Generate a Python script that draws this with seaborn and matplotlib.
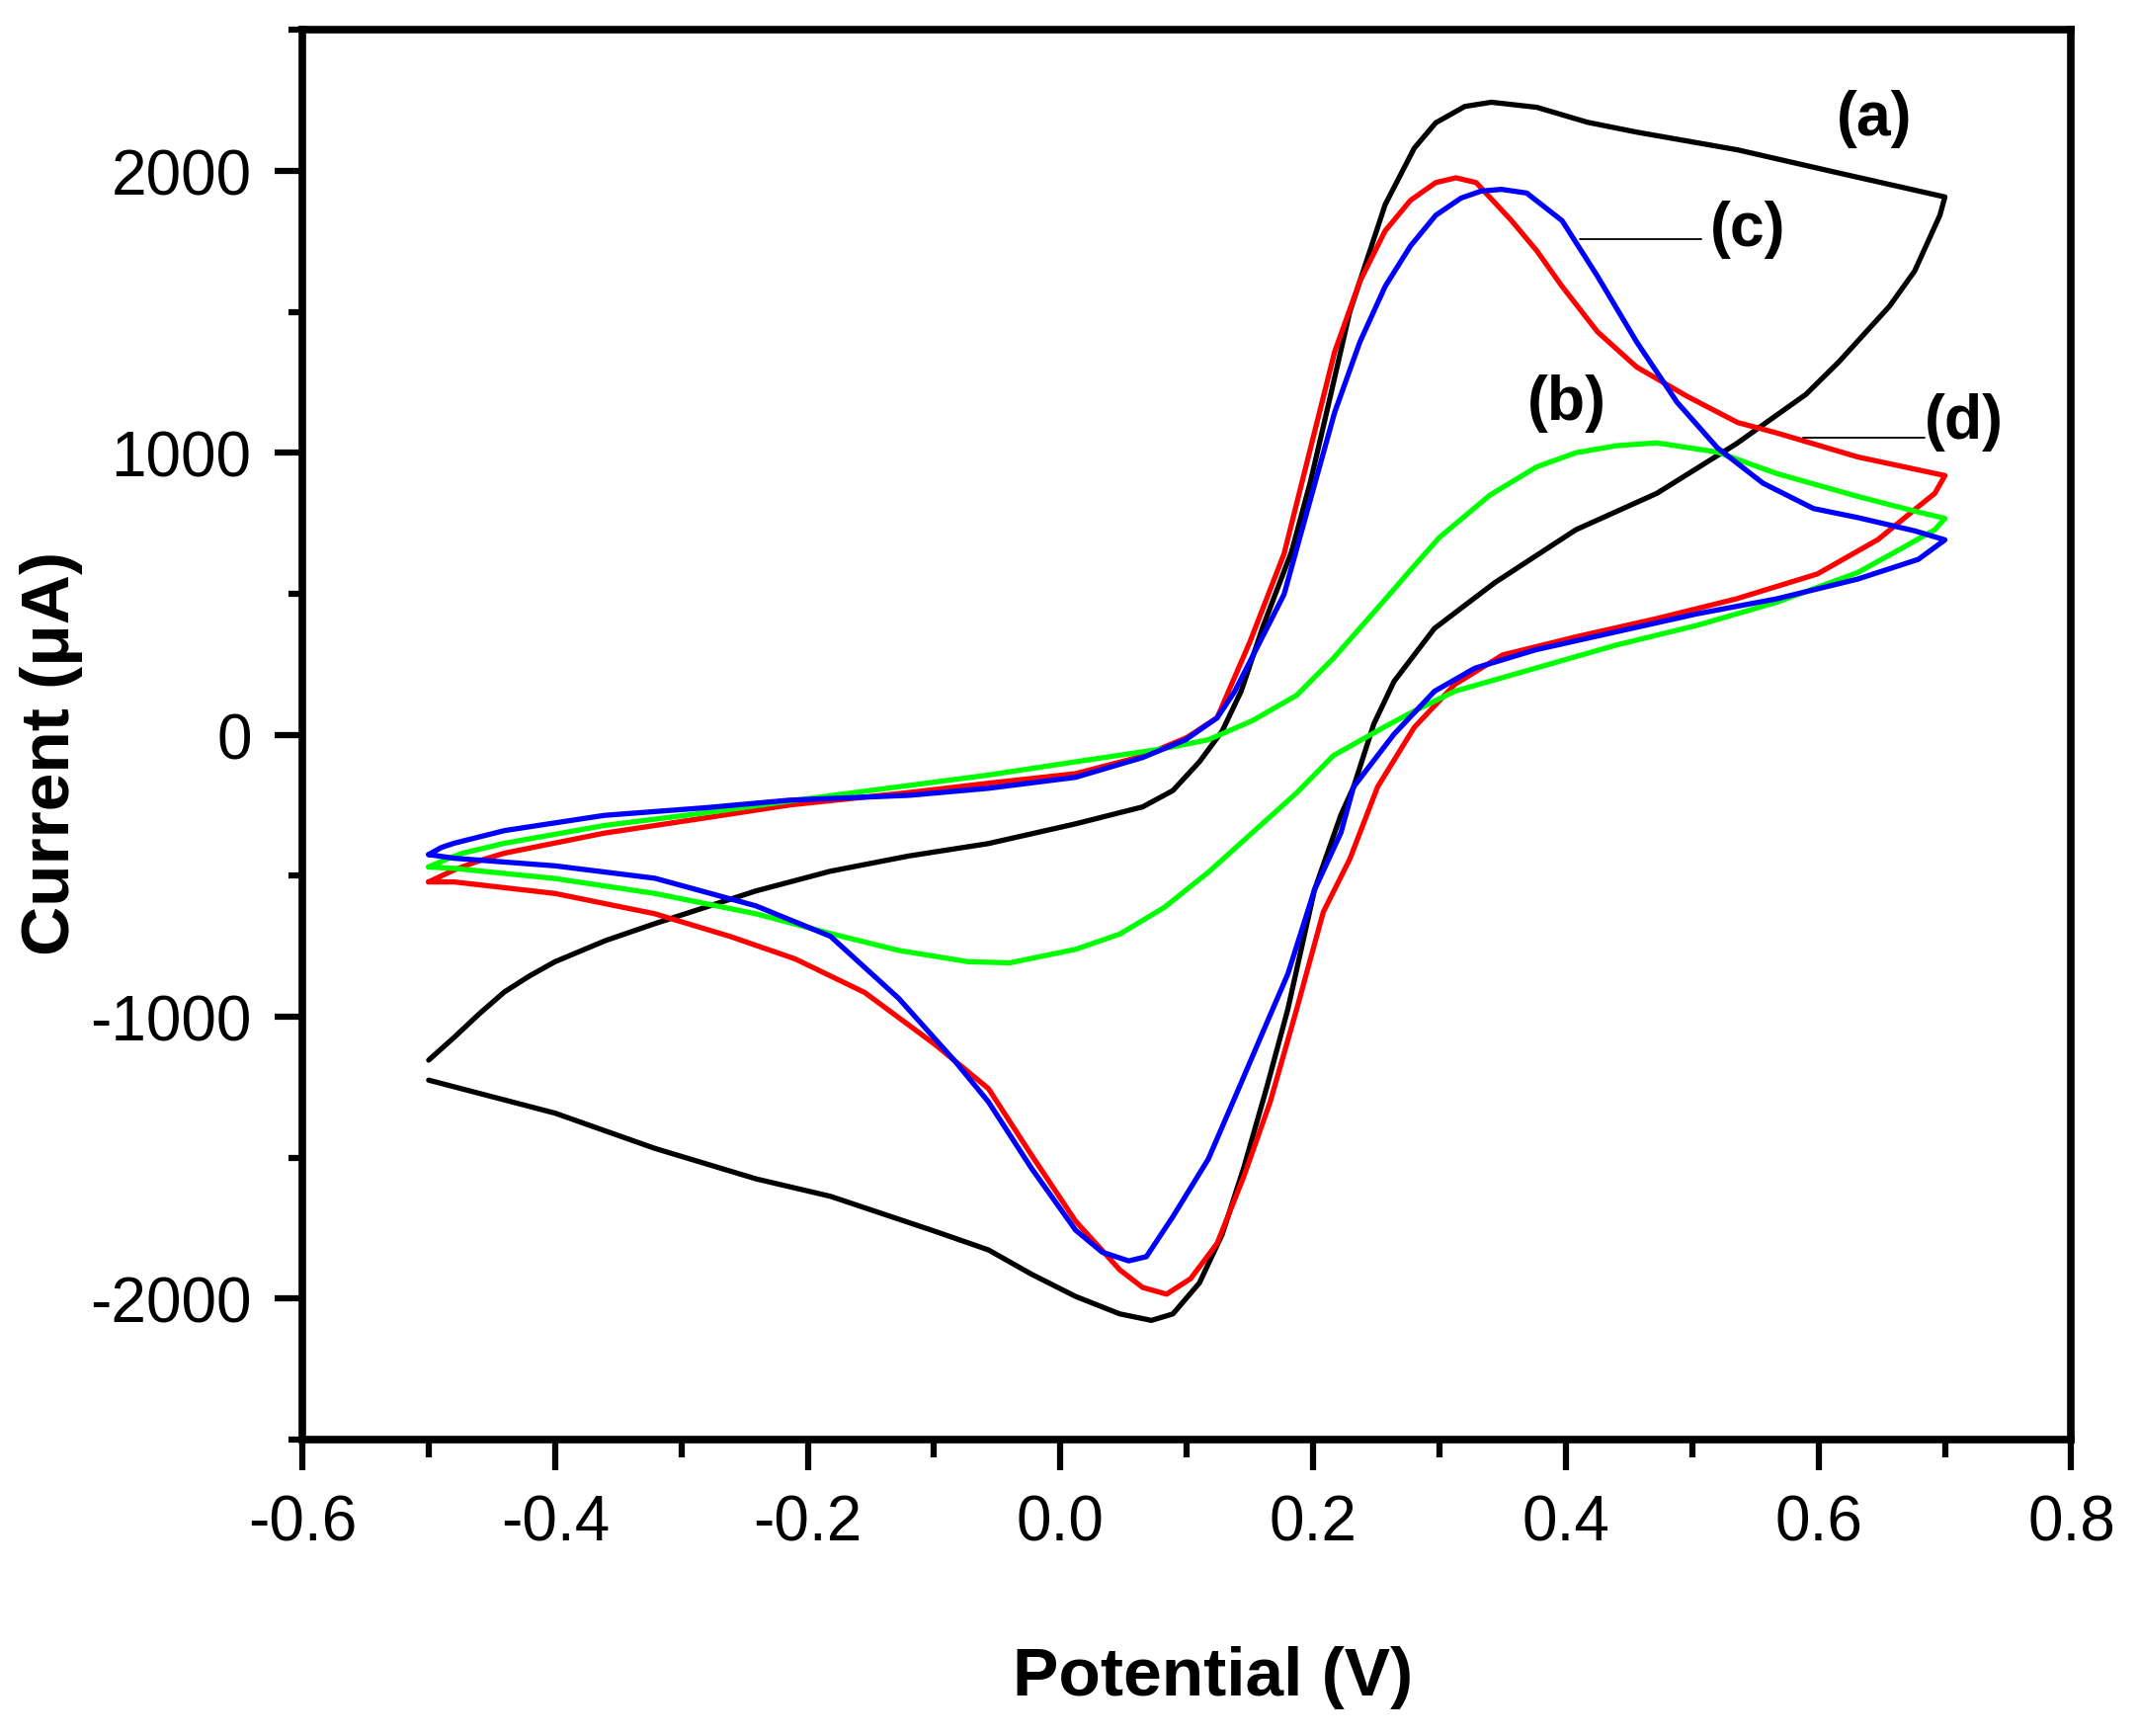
import matplotlib
matplotlib.use("Agg")
import matplotlib.pyplot as plt
import seaborn as sns
from matplotlib.ticker import MultipleLocator

# (a) black
a_anodic_E = [-0.500, -0.480, -0.460, -0.440, -0.420, -0.400, -0.360, -0.321, -0.241, -0.182, -0.120,
              -0.057, 0.012, 0.065, 0.089, 0.110, 0.128, 0.143, 0.160, 0.183, 0.198, 0.211, 0.229,
              0.257, 0.280, 0.297, 0.320, 0.341, 0.377, 0.417, 0.456, 0.536, 0.615, 0.700]
a_anodic_I = [-1154, -1074, -990, -912, -855, -805, -730, -670, -554, -484, -430,
              -386, -316, -256, -198, -96, 13, 154, 380, 650, 900, 1150, 1500,
              1880, 2080, 2170, 2228, 2243, 2225, 2172, 2137, 2074, 1993, 1907]
a_cathodic_E = [0.696, 0.676, 0.656, 0.616, 0.590, 0.535, 0.472, 0.408, 0.344, 0.296, 0.264, 0.248,
                0.232, 0.222, 0.201, 0.180, 0.163, 0.145, 0.128, 0.110, 0.089, 0.072, 0.047, 0.012,
                -0.023, -0.057, -0.100, -0.182, -0.241, -0.321, -0.400, -0.500]
a_cathodic_I = [1842, 1644, 1519, 1322, 1207, 1032, 856, 727, 540, 377, 189, 38,
                -185, -284, -551, -973, -1255, -1537, -1772, -1944, -2054, -2077, -2054, -1992,
                -1913, -1827, -1760, -1637, -1575, -1467, -1342, -1225]

# (d) red
d_anodic_E = [-0.500, -0.480, -0.460, -0.440, -0.361, -0.281, -0.214, -0.120, -0.057, 0.012, 0.065,
              0.100, 0.124, 0.150, 0.177, 0.197, 0.217, 0.237, 0.257, 0.277, 0.297, 0.313, 0.329,
              0.357, 0.377, 0.397, 0.425, 0.456, 0.496, 0.536, 0.567, 0.631, 0.700]
d_anodic_I = [-522, -480, -447, -420, -349, -295, -249, -205, -172, -138, -76,
              -10, 60, 330, 642, 1000, 1358, 1608, 1787, 1895, 1958, 1975, 1958,
              1823, 1716, 1590, 1429, 1304, 1200, 1107, 1070, 985, 919]
d_cathodic_E = [0.692, 0.679, 0.647, 0.599, 0.535, 0.472, 0.408, 0.350, 0.312, 0.280, 0.251, 0.229,
                0.208, 0.187, 0.166, 0.145, 0.124, 0.103, 0.084, 0.065, 0.047, 0.012, -0.023,
                -0.057, -0.100, -0.155, -0.210, -0.261, -0.321, -0.400, -0.480, -0.500]
d_cathodic_I = [856, 809, 692, 570, 482, 412, 347, 283, 178, 26, -185, -441,
                -629, -973, -1302, -1568, -1804, -1929, -1984, -1960, -1898, -1725, -1490,
                -1255, -1096, -914, -795, -716, -635, -563, -522, -522]

# (b) green
b_anodic_E = [-0.500, -0.485, -0.473, -0.440, -0.361, -0.281, -0.214, -0.120, -0.057, 0.012, 0.082,
              0.117, 0.152, 0.187, 0.216, 0.257, 0.280, 0.300, 0.340, 0.377, 0.408, 0.440, 0.472,
              0.520, 0.567, 0.631, 0.676, 0.700]
b_anodic_I = [-469, -440, -420, -385, -322, -277, -235, -180, -143, -96, -49,
              -18, 50, 140, 271, 480, 599, 700, 850, 950, 1000, 1025, 1035,
              1002, 926, 845, 793, 767]
b_cathodic_E = [0.692, 0.669, 0.631, 0.567, 0.504, 0.440, 0.376, 0.312, 0.280, 0.257, 0.216, 0.187,
                0.152, 0.117, 0.082, 0.047, 0.012, -0.040, -0.073, -0.128, -0.182, -0.241, -0.321,
                -0.400, -0.480, -0.500]
b_cathodic_I = [727, 669, 575, 470, 388, 318, 236, 154, 84, 29, -74, -206,
                -347, -488, -613, -707, -761, -809, -805, -765, -705, -635, -563,
                -510, -474, -469]

# (c) blue
c_anodic_E = [-0.500, -0.490, -0.480, -0.440, -0.361, -0.281, -0.214, -0.120, -0.057, 0.012, 0.065,
              0.099, 0.124, 0.138, 0.150, 0.177, 0.197, 0.217, 0.237, 0.257, 0.277, 0.297, 0.317,
              0.333, 0.349, 0.369, 0.397, 0.425, 0.456, 0.488, 0.520, 0.556, 0.596, 0.631, 0.676,
              0.700]
c_anodic_I = [-425, -400, -385, -340, -286, -259, -232, -215, -190, -151, -81,
              -18, 60, 154, 260, 498, 821, 1143, 1393, 1590, 1733, 1842, 1903,
              1928, 1934, 1921, 1823, 1626, 1393, 1179, 1017, 892, 802, 770, 723,
              691]
c_cathodic_E = [0.679, 0.631, 0.567, 0.504, 0.440, 0.376, 0.328, 0.296, 0.264, 0.232, 0.222, 0.201,
                0.180, 0.159, 0.138, 0.117, 0.089, 0.068, 0.054, 0.033, 0.012, -0.023, -0.057,
                -0.084, -0.128, -0.182, -0.241, -0.321, -0.400, -0.480, -0.500]
c_cathodic_I = [622, 552, 482, 429, 365, 301, 236, 154, 2, -185, -347, -551,
                -848, -1067, -1287, -1505, -1709, -1851, -1866, -1835, -1757, -1537, -1302,
                -1155, -935, -715, -607, -509, -465, -438, -425]

curves = [
    ("a", a_anodic_E + a_cathodic_E, a_anodic_I + a_cathodic_I, "#000000"),
    ("d", d_anodic_E + d_cathodic_E, d_anodic_I + d_cathodic_I, "#ff0000"),
    ("b", b_anodic_E + b_cathodic_E, b_anodic_I + b_cathodic_I, "#00ff00"),
    ("c", c_anodic_E + c_cathodic_E, c_anodic_I + c_cathodic_I, "#0000ff"),
]

# curve labels: text, x, y
label_text = ["(a)", "(b)", "(c)", "(d)"]
label_x = [0.644, 0.401, 0.544, 0.715]
label_y = [2186, 1179, 1796, 1110]
# leader lines for (c) and (d)
leader_c_x = [0.411, 0.507]
leader_c_y = [1756, 1756]
leader_d_x = [0.588, 0.684]
leader_d_y = [1053, 1053]

sns.set_style("white")
plt.rcParams["font.family"] = ["Liberation Sans", "DejaVu Sans"]
plt.rcParams["axes.unicode_minus"] = False
plt.rcParams["text.color"] = "black"
plt.rcParams["axes.labelcolor"] = "black"
plt.rcParams["xtick.color"] = "black"
plt.rcParams["ytick.color"] = "black"

fig = plt.figure(figsize=(21.64, 17.58), dpi=100)
ax = fig.add_axes([0.1414, 0.1706, 0.8274, 0.8117])

for name, e, i, col in curves:
    sns.lineplot(x=e, y=i, sort=False, estimator=None, color=col, linewidth=3.8, ax=ax)

ax.plot(leader_c_x, leader_c_y, color="black", linewidth=1.3)
ax.plot(leader_d_x, leader_d_y, color="black", linewidth=1.3)
for t, x, y in zip(label_text, label_x, label_y):
    ax.text(x, y, t, fontsize=45, fontweight="bold", ha="center", va="center", color="black")

ax.set_xlim(-0.6, 0.8)
ax.set_ylim(-2500, 2500)
ax.xaxis.set_major_locator(MultipleLocator(0.2))
ax.xaxis.set_minor_locator(MultipleLocator(0.1))
ax.yaxis.set_major_locator(MultipleLocator(1000))
ax.yaxis.set_minor_locator(MultipleLocator(500))

for sp in ax.spines.values():
    sp.set_linewidth(5.5)
    sp.set_color("black")

ax.tick_params(which="both", direction="out", color="black", width=4.5,
               top=False, right=False, bottom=True, left=True)
ax.tick_params(axis="x", which="major", length=22, pad=17, labelsize=46, labelcolor="black")
ax.tick_params(axis="x", which="minor", length=13)
ax.tick_params(axis="y", which="major", length=20, pad=17, labelsize=46, labelcolor="black")
ax.tick_params(axis="y", which="minor", length=10)

ax.set_xlabel("Potential (V)", fontsize=50, fontweight="bold", color="black")
ax.set_ylabel("Current (\u03bcA)", fontsize=50, fontweight="bold", color="black")
ax.xaxis.set_label_coords(0.515, -0.146)
ax.yaxis.set_label_coords(-0.124, 0.4877)

fig.savefig("out.png", dpi=100)
plt.close("all")
